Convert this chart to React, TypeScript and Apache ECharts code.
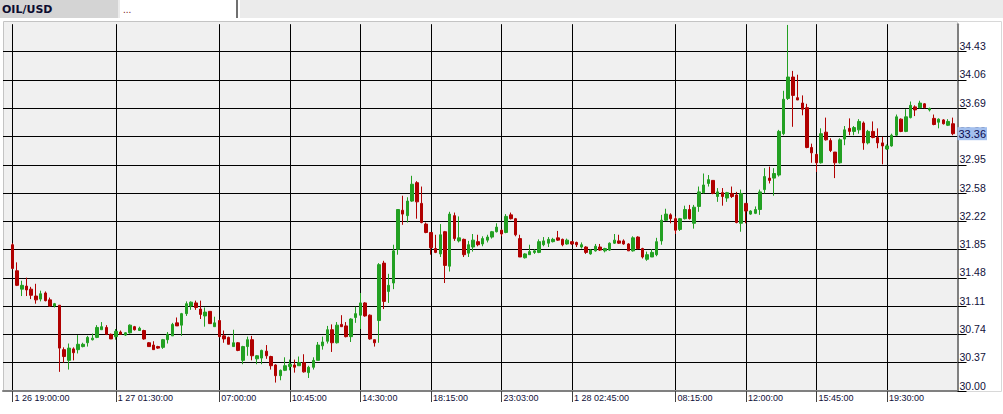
import React, { useEffect, useRef } from "react";
import * as echarts from "echarts";

// ---- data (15-minute candles, OIL/USD) ----
const opens = [
  31.91, 31.57, 31.33, 31.37, 31.33, 31.24, 31.20, 31.28, 31.19, 31.11,
  31.12, 30.54, 30.40, 30.55, 30.54, 30.58, 30.63, 30.67, 30.70, 30.80,
  30.83, 30.74, 30.71, 30.77, 30.73, 30.76, 30.84, 30.79, 30.79, 30.63,
  30.60, 30.58, 30.57, 30.67, 30.72, 30.89, 30.86, 31.01, 31.11, 31.15,
  31.07, 30.98, 31.04, 30.84, 30.92, 30.72, 30.70, 30.58, 30.63, 30.40,
  30.58, 30.67, 30.42, 30.43, 30.52, 30.45, 30.34, 30.20, 30.27, 30.32,
  30.34, 30.33, 30.37, 30.24, 30.31, 30.40, 30.59, 30.65, 30.80, 30.63,
  30.87, 30.85, 30.71, 30.96, 30.99, 31.15, 30.99, 30.67, 30.92, 31.67,
  31.30, 31.41, 31.85, 32.36, 32.29, 32.48, 32.72, 32.45, 32.18, 32.07,
  31.86, 31.79, 32.08, 31.63, 32.29, 31.96, 31.98, 31.80, 31.88, 31.95,
  31.92, 31.97, 32.01, 32.08, 32.10, 32.07, 32.30, 32.25, 31.99, 31.74,
  31.78, 31.81, 31.81, 31.91, 31.93, 31.95, 32.00, 31.98, 31.92, 31.95,
  31.94, 31.88, 31.88, 31.79, 31.83, 31.88, 31.83, 31.84, 31.93, 31.96,
  31.96, 31.92, 31.83, 32.01, 31.86, 31.72, 31.75, 31.78, 31.96, 32.23,
  32.30, 32.25, 32.11, 32.25, 32.37, 32.19, 32.41, 32.59, 32.71, 32.75,
  32.54, 32.59, 32.52, 32.58, 32.56, 32.19, 32.45, 32.31, 32.32, 32.37,
  32.63, 32.78, 32.78, 32.82, 33.36, 33.82, 34.10, 33.83, 33.76, 33.70,
  33.18, 33.09, 32.98, 33.38, 33.27, 33.12, 32.98, 33.29, 33.43, 33.39,
  33.41, 33.50, 33.24, 33.39, 33.31, 33.24, 33.16, 33.20, 33.34, 33.55,
  33.39, 33.57, 33.71, 33.70, 33.75, 33.67, 33.56, 33.51, 33.54, 33.47,
  33.49,
];
const closes = [
  31.60, 31.38, 31.38, 31.32, 31.25, 31.19, 31.27, 31.18, 31.11, 31.14,
  30.56, 30.45, 30.56, 30.50, 30.61, 30.61, 30.70, 30.69, 30.83, 30.84,
  30.74, 30.68, 30.78, 30.74, 30.76, 30.86, 30.80, 30.82, 30.68, 30.58,
  30.54, 30.56, 30.67, 30.74, 30.87, 30.85, 31.01, 31.14, 31.16, 31.09,
  31.00, 31.03, 30.88, 30.89, 30.71, 30.68, 30.61, 30.63, 30.53, 30.58,
  30.67, 30.46, 30.46, 30.53, 30.46, 30.33, 30.20, 30.27, 30.33, 30.35,
  30.31, 30.37, 30.25, 30.31, 30.40, 30.60, 30.64, 30.80, 30.63, 30.86,
  30.84, 30.71, 30.94, 31.01, 31.15, 30.98, 30.68, 30.63, 31.65, 31.17,
  31.38, 31.83, 32.37, 32.31, 32.48, 32.70, 32.47, 32.20, 32.07, 31.87,
  31.81, 32.04, 31.64, 32.31, 31.99, 32.00, 31.78, 31.91, 31.97, 31.91,
  31.99, 32.01, 32.08, 32.14, 32.05, 32.28, 32.25, 32.04, 31.75, 31.79,
  31.82, 31.83, 31.95, 31.96, 31.98, 31.98, 31.97, 31.91, 31.97, 31.92,
  31.91, 31.91, 31.81, 31.84, 31.89, 31.84, 31.86, 31.93, 31.97, 31.93,
  31.92, 31.83, 32.00, 31.86, 31.75, 31.78, 31.81, 31.95, 32.23, 32.31,
  32.25, 32.10, 32.25, 32.37, 32.25, 32.40, 32.60, 32.69, 32.76, 32.58,
  32.60, 32.54, 32.59, 32.54, 32.20, 32.58, 32.35, 32.35, 32.37, 32.60,
  32.80, 32.75, 32.84, 33.39, 33.81, 34.10, 33.86, 33.80, 33.68, 33.18,
  33.11, 32.98, 33.36, 33.28, 33.14, 32.98, 33.28, 33.41, 33.39, 33.44,
  33.52, 33.24, 33.39, 33.31, 33.24, 33.20, 33.20, 33.34, 33.58, 33.39,
  33.58, 33.73, 33.67, 33.76, 33.70, 33.69, 33.48, 33.55, 33.49, 33.52,
  33.36,
];
const lows = [
  31.59, 31.37, 31.24, 31.24, 31.20, 31.14, 31.17, 31.17, 31.10, 31.09,
  30.25, 30.37, 30.28, 30.40, 30.49, 30.57, 30.58, 30.66, 30.69, 30.80,
  30.73, 30.68, 30.67, 30.74, 30.72, 30.75, 30.79, 30.79, 30.67, 30.58,
  30.54, 30.55, 30.55, 30.62, 30.72, 30.85, 30.72, 30.98, 31.06, 31.06,
  30.94, 30.84, 30.88, 30.84, 30.70, 30.63, 30.61, 30.58, 30.52, 30.35,
  30.46, 30.40, 30.35, 30.35, 30.42, 30.28, 30.11, 30.14, 30.26, 30.27,
  30.24, 30.33, 30.24, 30.17, 30.28, 30.40, 30.54, 30.62, 30.51, 30.62,
  30.84, 30.70, 30.64, 30.89, 30.81, 30.97, 30.67, 30.58, 30.63, 31.07,
  31.15, 31.33, 31.78, 32.17, 32.20, 32.47, 32.25, 32.19, 32.06, 31.78,
  31.80, 31.75, 31.41, 31.56, 31.96, 31.94, 31.75, 31.75, 31.82, 31.89,
  31.89, 31.94, 31.99, 32.07, 32.02, 32.06, 32.24, 32.02, 31.75, 31.73,
  31.78, 31.79, 31.80, 31.89, 31.88, 31.94, 31.96, 31.89, 31.91, 31.91,
  31.88, 31.86, 31.79, 31.78, 31.82, 31.83, 31.81, 31.83, 31.92, 31.92,
  31.91, 31.83, 31.82, 31.85, 31.73, 31.70, 31.75, 31.76, 31.91, 32.22,
  32.19, 32.05, 32.09, 32.24, 32.24, 32.12, 32.34, 32.58, 32.67, 32.57,
  32.47, 32.42, 32.47, 32.52, 32.19, 32.08, 32.19, 32.30, 32.31, 32.30,
  32.58, 32.71, 32.55, 32.80, 33.34, 33.80, 33.45, 33.80, 33.60, 33.17,
  32.98, 32.86, 32.97, 33.27, 33.12, 32.78, 32.97, 33.21, 33.34, 33.34,
  33.36, 33.15, 33.22, 33.30, 33.17, 32.96, 33.15, 33.19, 33.33, 33.38,
  33.38, 33.56, 33.59, 33.69, 33.69, 33.65, 33.47, 33.43, 33.48, 33.46,
  33.34,
];
const highs = [
  31.93, 31.68, 31.44, 31.48, 31.36, 31.40, 31.31, 31.30, 31.22, 31.15,
  31.12, 30.57, 30.62, 30.57, 30.73, 30.63, 30.72, 30.75, 30.86, 30.90,
  30.86, 30.75, 30.81, 30.79, 30.77, 30.87, 30.85, 30.84, 30.80, 30.64,
  30.65, 30.59, 30.68, 30.77, 30.89, 30.96, 31.02, 31.17, 31.17, 31.18,
  31.18, 31.09, 31.04, 30.97, 30.93, 30.79, 30.71, 30.80, 30.64, 30.59,
  30.71, 30.72, 30.47, 30.54, 30.60, 30.46, 30.35, 30.28, 30.44, 30.41,
  30.41, 30.45, 30.48, 30.33, 30.44, 30.64, 30.71, 30.85, 30.87, 30.90,
  30.99, 30.90, 30.95, 31.10, 31.28, 31.16, 31.00, 30.67, 31.67, 31.70,
  31.53, 31.91, 32.37, 32.55, 32.53, 32.81, 32.74, 32.67, 32.20, 32.07,
  32.04, 32.18, 32.09, 32.34, 32.33, 32.28, 31.99, 31.96, 32.05, 32.04,
  32.02, 32.04, 32.09, 32.19, 32.11, 32.31, 32.33, 32.26, 32.04, 31.80,
  31.91, 31.85, 31.98, 32.01, 32.01, 32.00, 32.09, 31.99, 31.99, 31.95,
  31.95, 31.94, 31.89, 31.85, 31.92, 31.92, 31.87, 31.94, 32.05, 32.04,
  31.98, 31.93, 32.02, 32.02, 31.87, 31.82, 31.85, 32.00, 32.30, 32.38,
  32.32, 32.28, 32.26, 32.42, 32.43, 32.43, 32.67, 32.84, 32.82, 32.75,
  32.65, 32.65, 32.60, 32.67, 32.60, 32.63, 32.45, 32.36, 32.41, 32.63,
  32.91, 32.93, 32.91, 33.41, 33.92, 34.78, 34.18, 34.13, 33.86, 33.75,
  33.23, 33.10, 33.43, 33.57, 33.30, 33.12, 33.30, 33.46, 33.56, 33.46,
  33.55, 33.52, 33.41, 33.52, 33.43, 33.32, 33.22, 33.36, 33.61, 33.56,
  33.68, 33.78, 33.73, 33.79, 33.76, 33.70, 33.61, 33.56, 33.55, 33.55,
  33.57,
];

// x-axis tick labels and the candle index each one sits on
const tickIndex = [0, 22, 44, 59, 74, 89, 104, 119, 141, 156, 171, 186];
const tickLabels = [
  "1 26 19:00:00", "1 27 01:30:00", "07:00:00", "10:45:00", "14:30:00", "18:15:00",
  "23:03:00", "1 28 02:45:00", "08:15:00", "12:00:00", "15:45:00", "19:30:00",
];

// y-axis scale (labels 30.00, 30.37 ... 34.43)
const yMin = 30;
const yMax = 34.79;
const yStep = 0.3692;

const PAD_LEFT = 2;
const PAD_RIGHT = 1;

const UP = "#22a022";
const DOWN = "#b00000";

export default function App() {
  const ref = useRef<HTMLDivElement>(null);

  useEffect(() => {
    document.body.style.margin = "0";
    if (!ref.current) return;
    const chart = echarts.init(ref.current, undefined, { renderer: "svg" });

    const n = opens.length;
    const categories: string[] = [];
    const seriesData: any[] = [];
    for (let i = 0; i < PAD_LEFT; i++) {
      categories.push("padL" + i);
      seriesData.push(["-", "-", "-", "-"]);
    }
    for (let i = 0; i < n; i++) {
      categories.push(String(i));
      seriesData.push([opens[i], closes[i], lows[i], highs[i]]);
    }
    for (let i = 0; i < PAD_RIGHT; i++) {
      categories.push("padR" + i);
      seriesData.push(["-", "-", "-", "-"]);
    }

    const labelMap: Record<string, string> = {};
    tickIndex.forEach((ti, k) => (labelMap[String(ti)] = tickLabels[k]));
    const tickSet = new Set(tickIndex.map((t) => t + PAD_LEFT));
    const showAt = (idx: number) => tickSet.has(idx);

    const lastPrice = closes[closes.length - 1];
    const textColor = "#10103a";

    // plot: bottom at y=391 (30.00), 76.58 px per dollar
    const plotBottom = 391;
    const pxPerUnit = 76.58;
    const plotHeight = (yMax - yMin) * pxPerUnit;

    chart.setOption({
      animation: false,
      backgroundColor: "#ffffff",
      grid: { left: 3, top: plotBottom - plotHeight, width: 954.5, height: plotHeight, containLabel: false },
      xAxis: {
        type: "category",
        data: categories,
        boundaryGap: false,
        axisLine: { show: true, lineStyle: { color: "#808080", width: 2 } },
        axisTick: { show: true, interval: showAt, length: 11, lineStyle: { color: "#404040", width: 1 } },
        axisLabel: {
          show: true,
          interval: showAt,
          formatter: (v: string) => labelMap[v] ?? "",
          align: "left",
          margin: 2,
          padding: [0, 0, 0, 2],
          color: textColor,
          fontSize: 9,
          fontFamily: "'Liberation Sans', Arial, sans-serif",
        },
        splitLine: { show: true, interval: showAt, lineStyle: { color: "#000000", width: 1 } },
      },
      yAxis: {
        type: "value",
        position: "right",
        min: yMin,
        max: yMax,
        interval: yStep,
        axisLine: { show: true, lineStyle: { color: "#808080", width: 2 } },
        axisTick: { show: true, length: 9, lineStyle: { color: "#000000", width: 1 } },
        axisLabel: {
          show: true,
          showMaxLabel: false,
          margin: 2,
          verticalAlign: "bottom",
          formatter: (v: number) => v.toFixed(2),
          color: textColor,
          fontSize: 10.5,
          fontFamily: "'Liberation Sans', Arial, sans-serif",
        },
        splitLine: { show: true, showMaxLine: false, lineStyle: { color: "#000000", width: 1 } },
      },
      graphic: [
        // header strip
        { type: "rect", z: -20, shape: { x: 0, y: 0, width: 1003, height: 18 }, style: { fill: "#ebebeb" } },
        { type: "rect", z: -19, shape: { x: 0, y: 0, width: 118, height: 18 }, style: { fill: "#d4d4d4" } },
        { type: "rect", z: -19, shape: { x: 120, y: 0, width: 116, height: 18 }, style: { fill: "#ffffff" } },
        { type: "rect", z: -19, shape: { x: 236, y: 0, width: 2, height: 18 }, style: { fill: "#707070" } },
        { type: "rect", z: -19, shape: { x: 238, y: 0, width: 2, height: 18 }, style: { fill: "#ffffff" } },
        {
          type: "text", z: -18, x: 2, y: 9,
          style: { text: "OIL/USD", fill: "#0c0c30", font: "bold 11px 'DejaVu Sans', sans-serif", verticalAlign: "middle" },
        },
        {
          type: "text", z: -18, x: 123, y: 9,
          style: { text: "...", fill: "#7a1a1a", font: "10px 'Liberation Sans', sans-serif", verticalAlign: "middle" },
        },
        // plot background + border
        {
          type: "rect", z: -10,
          shape: { x: 3.5, y: 21.5, width: 954, height: 369.5 },
          style: { fill: "#f0f0f0", stroke: "#c4c4c4", lineWidth: 1 },
        },
        // price scale panel border
        {
          type: "rect", z: -10,
          shape: { x: 957.5, y: 21.5, width: 44, height: 370 },
          style: { fill: "#ffffff", stroke: "#d8d8d8", lineWidth: 1 },
        },
      ],
      series: [
        {
          type: "candlestick",
          data: seriesData,
          barWidth: 3,
          itemStyle: {
            color: UP,
            color0: DOWN,
            borderColor: UP,
            borderColor0: DOWN,
            borderWidth: 1,
          },
          markLine: {
            silent: true,
            symbol: ["none", "none"],
            lineStyle: { color: "transparent", width: 0 },
            data: [{ yAxis: lastPrice }],
            label: {
              show: true,
              position: "end",
              distance: 0,
              formatter: lastPrice.toFixed(2),
              backgroundColor: "#a4c0ee",
              color: "#0a0a50",
              padding: [1, 1, 1, 1],
              fontSize: 11,
              fontFamily: "'Liberation Sans', Arial, sans-serif",
            },
          },
        },
      ],
    });

    return () => chart.dispose();
  }, []);

  return <div ref={ref} style={{ width: 1003, height: 414 }} />;
}
